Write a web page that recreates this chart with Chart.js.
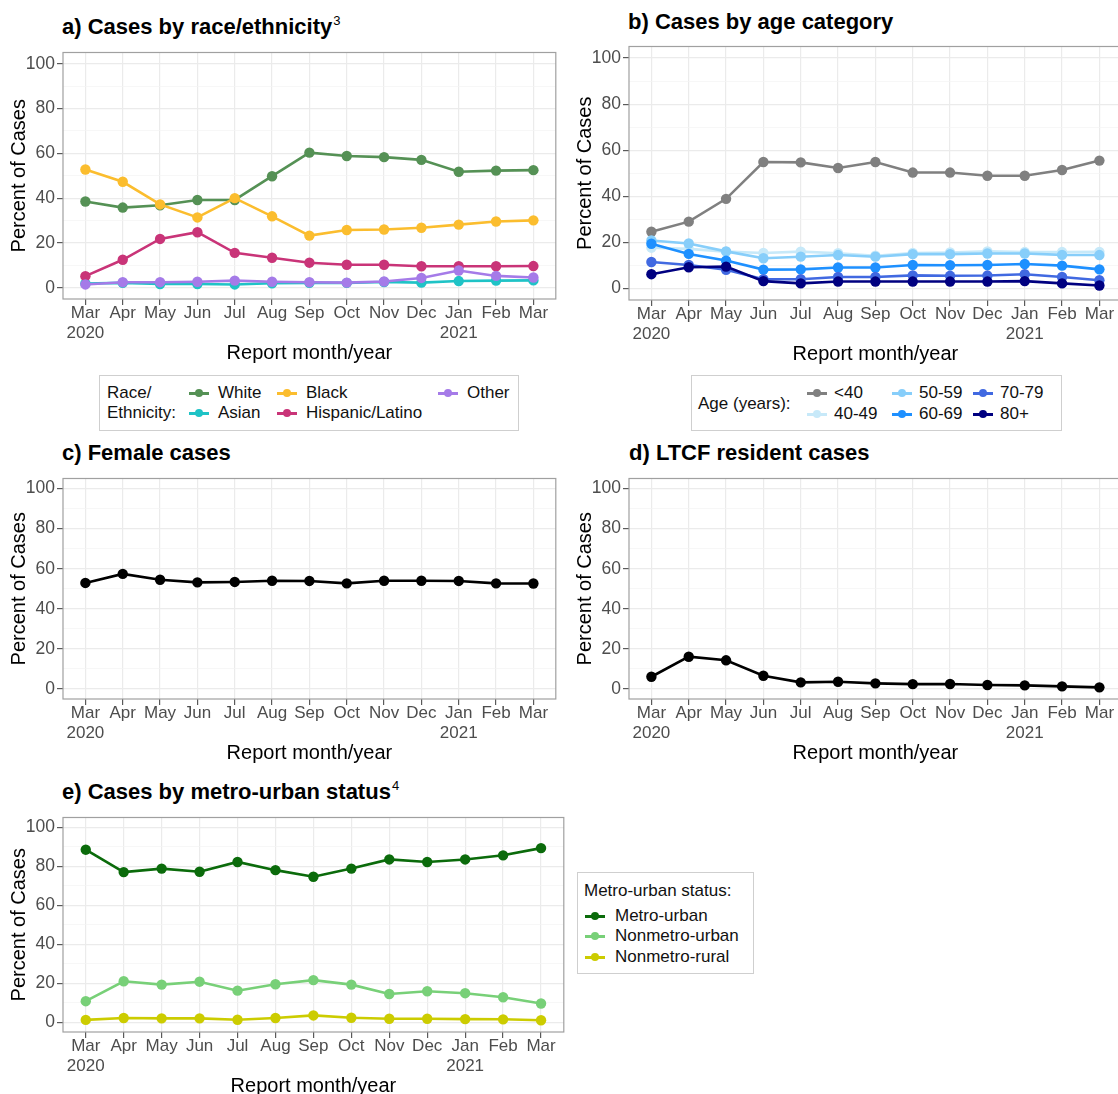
<!DOCTYPE html>
<html>
<head>
<meta charset="utf-8">
<script src="https://cdn.jsdelivr.net/npm/chart.js@4.4.1/dist/chart.umd.min.js"></script>
<style>
  html, body { margin: 0; padding: 0; background: #fff; }
  body { position: relative; width: 1118px; height: 1094px; overflow: hidden;
         font-family: "Liberation Sans", Arial, sans-serif; }
  canvas { position: absolute; }
  .title { position: absolute; font-weight: bold; font-size: 22px; line-height: 24px;
           color: #000; white-space: nowrap; }
  .title sup { font-weight: normal; font-size: 13px; vertical-align: top;
               position: relative; top: -6px; margin-left: 1px; }
  .legend { position: absolute; border: 1px solid #cfcfcf; box-sizing: border-box; }
  .lt { position: absolute; font-size: 17px; line-height: 20px; white-space: nowrap; color: #111; }
  .key { position: absolute; width: 20px; height: 8px; }
  .key i { position: absolute; left: 0; right: 0; top: 3px; height: 2.5px; }
  .key b { position: absolute; left: 6px; top: 0; width: 8px; height: 8px; border-radius: 50%; }
</style>
</head>
<body>
<script>
// x axis
const months = ['Mar', 'Apr', 'May', 'Jun', 'Jul', 'Aug', 'Sep', 'Oct', 'Nov', 'Dec', 'Jan', 'Feb', 'Mar'];
const years = ['2020', '', '', '', '', '', '', '', '', '', '2021', '', ''];
const yTicks = [0, 10, 20, 30, 40, 50, 60, 70, 80, 90, 100];

// a) race/ethnicity
const raceWhite = [38.5, 35.8, 36.8, 39.2, 39.2, 49.8, 60.3, 58.8, 58.3, 57.1, 51.8, 52.3, 52.5];
const raceAsian = [1.9, 2.2, 1.7, 1.7, 1.5, 2.0, 2.2, 2.2, 2.6, 2.3, 3.0, 3.2, 3.3];
const raceBlack = [52.8, 47.3, 37.2, 31.4, 40.0, 31.9, 23.3, 25.8, 26.0, 26.8, 28.2, 29.6, 30.1];
const raceHispanic = [5.2, 12.5, 21.8, 24.8, 15.6, 13.4, 11.2, 10.3, 10.3, 9.6, 9.6, 9.6, 9.7];
const raceOther = [1.5, 2.5, 2.5, 2.7, 3.2, 2.7, 2.5, 2.3, 2.8, 4.4, 7.7, 5.3, 4.6];

// b) age category
const ageUnder40 = [24.6, 29.0, 38.9, 54.9, 54.7, 52.3, 54.9, 50.3, 50.3, 48.9, 48.9, 51.4, 55.5];
const age40to49 = [17.7, 17.2, 16.0, 15.4, 16.0, 15.3, 14.2, 15.4, 15.6, 16.1, 15.8, 15.8, 15.9];
const age50to59 = [20.8, 19.5, 16.1, 13.1, 13.8, 14.5, 13.8, 14.9, 14.9, 15.2, 15.2, 14.6, 14.5];
const age60to69 = [19.4, 15.0, 12.1, 8.2, 8.3, 9.1, 9.1, 10.2, 10.1, 10.2, 10.6, 9.9, 8.3];
const age70to79 = [11.5, 10.2, 8.1, 4.0, 4.0, 5.0, 5.0, 5.7, 5.5, 5.6, 6.2, 5.0, 3.6];
const age80plus = [6.2, 9.2, 9.5, 3.2, 2.2, 3.0, 3.0, 3.0, 3.0, 3.0, 3.2, 2.2, 1.3];

// c) female, d) LTCF residents
const female = [52.9, 57.4, 54.5, 53.2, 53.4, 54.0, 53.9, 52.7, 54.0, 54.0, 53.9, 52.7, 52.6];
const ltcf = [6.1, 16.1, 14.3, 6.6, 3.3, 3.6, 2.8, 2.4, 2.5, 2.0, 1.8, 1.3, 0.8];

// e) metro-urban status
const metroUrban = [88.5, 77.0, 78.8, 77.2, 82.2, 78.0, 74.6, 78.8, 83.5, 82.2, 83.5, 85.6, 89.3];
const nonmetroUrban = [10.8, 21.0, 19.3, 20.8, 16.2, 19.5, 21.6, 19.3, 14.5, 15.9, 14.9, 12.8, 9.6];
const nonmetroRural = [1.2, 2.2, 2.0, 2.0, 1.3, 2.2, 3.5, 2.3, 1.8, 1.8, 1.6, 1.5, 1.0];

const raceSeries = [
  { name: 'White', values: raceWhite, color: '#559155' },
  { name: 'Asian', values: raceAsian, color: '#1fc3c6' },
  { name: 'Black', values: raceBlack, color: '#fbbd2e' },
  { name: 'Hispanic/Latino', values: raceHispanic, color: '#c93478' },
  { name: 'Other', values: raceOther, color: '#a57be8' }
];
const ageSeries = [
  { name: '<40', values: ageUnder40, color: '#808080' },
  { name: '40-49', values: age40to49, color: '#c7e9f9' },
  { name: '50-59', values: age50to59, color: '#87cefa' },
  { name: '60-69', values: age60to69, color: '#1e90ff' },
  { name: '70-79', values: age70to79, color: '#4169e1' },
  { name: '80+', values: age80plus, color: '#000080' }
];
const metroSeries = [
  { name: 'Metro-urban', values: metroUrban, color: '#0b6b0b' },
  { name: 'Nonmetro-urban', values: nonmetroUrban, color: '#78d078' },
  { name: 'Nonmetro-rural', values: nonmetroRural, color: '#cccc00' }
];

Chart.defaults.font.family = '"Liberation Sans", Arial, sans-serif';
Chart.defaults.animation = false;

// panel border drawn on all four sides like ggplot's theme_bw
const boxPlugin = {
  id: 'panelBox',
  afterDraw(chart) {
    const { ctx, chartArea: a } = chart;
    ctx.save();
    ctx.strokeStyle = '#a0a0a0';
    ctx.lineWidth = 1.2;
    ctx.strokeRect(a.left, a.top, a.right - a.left, a.bottom - a.top);
    ctx.restore();
  }
};

const minor = c => c.tick && c.tick.value % 20 !== 0;

function makePanel(box, series) {
  const cv = document.createElement('canvas');
  const left = box.l - 63, top = box.t - 10;
  cv.width = Math.ceil(box.r + 4 - left);
  cv.height = Math.ceil(box.b + 72 - top);
  cv.style.left = left + 'px';
  cv.style.top = top + 'px';
  document.body.appendChild(cv);

  new Chart(cv, {
    type: 'line',
    data: {
      datasets: series.map((s, i) => ({
        label: s.name,
        data: s.values.map((v, j) => ({ x: j, y: v })),
        borderColor: s.color,
        backgroundColor: s.color,
        pointBackgroundColor: s.color,
        pointBorderWidth: 0,
        pointRadius: 5.2,
        borderWidth: 2.6,
        tension: 0,
        order: -i
      }))
    },
    options: {
      responsive: false,
      layout: { padding: { top: 10, right: 4, left: 0, bottom: 0 } },
      plugins: { legend: { display: false }, tooltip: { enabled: false } },
      scales: {
        x: {
          type: 'linear', min: -0.6, max: 12.6,
          afterBuildTicks: s => { s.ticks = months.map((m, i) => ({ value: i })); },
          afterFit: s => { s.height = 72; },
          ticks: {
            autoSkip: false, maxRotation: 0, minRotation: 0, padding: -2,
            color: '#4d4d4d', font: { size: 17 },
            callback: (v, i) => years[i] ? [months[i], years[i]] : months[i]
          },
          grid: { color: '#ebebeb', lineWidth: 1.2, tickLength: 6, tickColor: '#5a5a5a' },
          border: { display: false },
          title: { display: true, text: 'Report month/year', color: '#000',
                   font: { size: 20 }, padding: { top: 0, bottom: 6 } }
        },
        y: {
          min: -5, max: 105,
          afterBuildTicks: s => { s.ticks = yTicks.map(v => ({ value: v })); },
          afterFit: s => { s.width = 63; },
          ticks: {
            autoSkip: false, padding: 2, color: '#4d4d4d', font: { size: 17.5 },
            callback: v => v % 20 === 0 ? String(v) : ''
          },
          grid: {
            color: c => minor(c) ? '#f3f3f3' : '#ebebeb',
            lineWidth: c => minor(c) ? 0.7 : 1.2,
            tickLength: 6,
            tickColor: c => minor(c) ? 'rgba(0,0,0,0)' : '#5a5a5a'
          },
          border: { display: false },
          title: { display: true, text: 'Percent of Cases', color: '#000',
                   font: { size: 20 }, padding: { top: 7, bottom: 0 } }
        }
      }
    },
    plugins: [boxPlugin]
  });
}

function addTitle(html, x, yc) {
  const d = document.createElement('div');
  d.className = 'title';
  d.innerHTML = html;
  d.style.left = x + 'px';
  d.style.top = (yc - 12) + 'px';
  document.body.appendChild(d);
}

function addText(txt, x, yc) {
  const d = document.createElement('div');
  d.className = 'lt';
  d.textContent = txt;
  d.style.left = x + 'px';
  d.style.top = (yc - 10) + 'px';
  document.body.appendChild(d);
}

function addKey(color, xc, yc) {
  const k = document.createElement('div');
  k.className = 'key';
  k.style.left = (xc - 10) + 'px';
  k.style.top = (yc - 4) + 'px';
  k.innerHTML = '<i style="background:' + color + '"></i><b style="background:' + color + '"></b>';
  document.body.appendChild(k);
}

function addLegendBox(x, y, w, h) {
  const d = document.createElement('div');
  d.className = 'legend';
  Object.assign(d.style, { left: x + 'px', top: y + 'px', width: w + 'px', height: h + 'px' });
  document.body.appendChild(d);
}

function addEntries(series, slots, gap) {
  series.forEach((s, i) => {
    const [xc, yc] = slots[i];
    addKey(s.color, xc, yc);
    addText(s.name, xc + gap, yc);
  });
}

// panels
makePanel({ l: 62.5, r: 556.5, t: 49.7, b: 298.3 }, raceSeries);
makePanel({ l: 628.5, r: 1122.5, t: 43.5, b: 298.6 }, ageSeries);
makePanel({ l: 62.5, r: 556.5, t: 476, b: 699 }, [{ name: 'Female', values: female, color: '#000' }]);
makePanel({ l: 628.5, r: 1122.5, t: 476, b: 699 }, [{ name: 'LTCF resident', values: ltcf, color: '#000' }]);
makePanel({ l: 63, r: 565, t: 814.5, b: 1031.5 }, metroSeries);

// titles
addTitle('a) Cases by race/ethnicity<sup>3</sup>', 62, 27);
addTitle('b) Cases by age category', 628, 22);
addTitle('c) Female cases', 62, 453);
addTitle('d) LTCF resident cases', 629, 453);
addTitle('e) Cases by metro-urban status<sup>4</sup>', 62, 792);

// legend a
addLegendBox(99, 375, 420, 56);
addText('Race/', 107, 393);
addText('Ethnicity:', 107, 413);
addEntries(raceSeries, [[199, 393], [199, 413], [287, 393], [287, 413], [448, 393]], 19);

// legend b
addLegendBox(691, 375, 371, 56);
addText('Age (years):', 698, 404);
addEntries(ageSeries, [[817, 393], [817, 414], [902, 393], [902, 414], [983, 393], [983, 414]], 17);

// legend e
addLegendBox(577, 872, 177, 102);
addText('Metro-urban status:', 584, 891);
addEntries(metroSeries, [[595, 916], [595, 936], [595, 957]], 20);
</script>
</body>
</html>
